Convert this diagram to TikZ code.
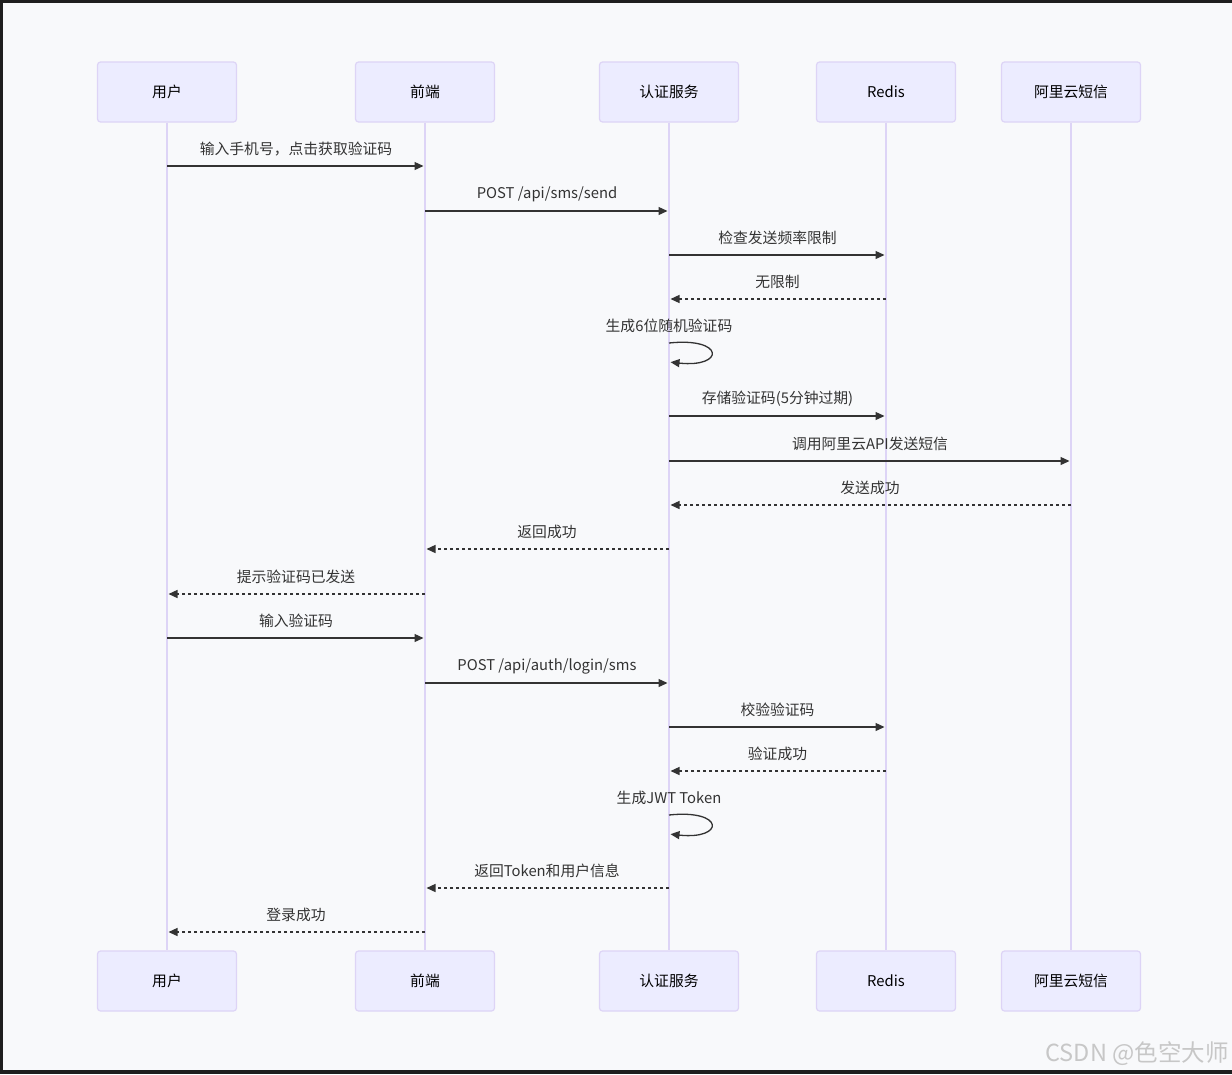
\documentclass[tikz,border=0pt]{standalone}
\usepackage{fontspec}
\setmainfont{Noto Sans CJK SC}
\usetikzlibrary{arrows.meta}

\definecolor{bgpage}{RGB}{248,249,251}
\definecolor{actorfill}{RGB}{236,236,255}
\definecolor{actorline}{RGB}{221,212,246}
\definecolor{msgline}{RGB}{51,51,51}
\definecolor{frameline}{RGB}{30,30,30}

\tikzset{
  actor/.style={draw=actorline, fill=actorfill, line width=1.2pt, rounded corners=3pt,
    minimum width=139pt, minimum height=60pt, inner sep=0pt, text=black},
  lifeline/.style={draw=actorline, line width=2pt},
  msg/.style={draw=msgline, line width=1.3pt, -{Triangle[length=9pt,width=8pt]}, shorten >=1.5pt},
  reply/.style={msg, dash pattern=on 3pt off 3pt},
  msgtext/.style={text=msgline, inner sep=0pt}
}

\begin{document}
\begin{tikzpicture}[x=1pt, y=-1pt, font=\fontsize{14.8}{18}\selectfont]
                \useasboundingbox (0,0) rectangle (1232,1074);
                \fill[bgpage] (0,0) rectangle (1232,1074);
                \fill[frameline] (0,0) rectangle (1232,3);
                \fill[frameline] (0,0) rectangle (3,1074);
                \fill[frameline] (0,1070) rectangle (1232,1074);

                % participants, top and bottom
                \foreach \n/\x/\t in {user/167/用户, front/425/前端, auth/669/认证服务, redis/886/Redis, aliyun/1071/阿里云短信} {
                    \node[actor] (\n) at (\x,92) {\t};
                    \node[actor] (\n B) at (\x,981) {\t};
                    \draw[lifeline] (\n) -- (\n B);
                }

                % messages
                \foreach \y/\a/\b/\t/\s in {166/user/front/{输入手机号，点击获取验证码}/msg,
                    211/front/auth/{POST /api/sms/send}/msg,
                    255/auth/redis/检查发送频率限制/msg,
                    299/redis/auth/无限制/reply,
                    416/auth/redis/{存储验证码(5分钟过期)}/msg,
                    461/auth/aliyun/调用阿里云API发送短信/msg,
                    505/aliyun/auth/发送成功/reply,
                    549/auth/front/返回成功/reply,
                    594/front/user/提示验证码已发送/reply,
                    638/user/front/输入验证码/msg,
                    683/front/auth/{POST /api/auth/login/sms}/msg,
                    727/auth/redis/校验验证码/msg,
                    771/redis/auth/验证成功/reply,
                    888/auth/front/返回Token和用户信息/reply,
                    932/front/user/登录成功/reply} {
                    \coordinate (s\y) at (\a |- 0,\y);
                    \coordinate (e\y) at (\b |- 0,\y);
                    \draw[\s] (s\y) -- (e\y) node[msgtext, midway, yshift=17pt] {\t};
                }

                % self calls on the auth service
                \foreach \y/\t in {343/生成6位随机验证码, 815/生成JWT Token} {
                    \coordinate (s\y) at (auth |- 0,\y);
                    \coordinate (e\y) at (auth |- 0,\y+19);
                    \draw[msg] (s\y) .. controls +(56,-6) and +(56,6) .. (e\y);
                    \node[msgtext] at ([yshift=17pt]s\y) {\t};
                }

                \node[text=black!22, font=\fontsize{23.5}{27}\selectfont] (mark) at (1137,1054) {CSDN @色空大师};
            \end{tikzpicture}
\end{document}
